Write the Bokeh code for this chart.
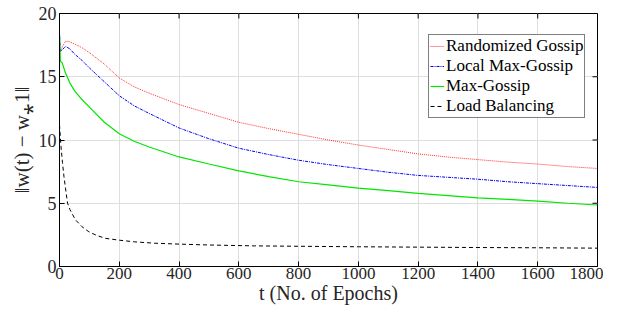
import math
from bokeh.plotting import figure
from bokeh.models import Range1d, Legend, LegendItem, FixedTicker
from bokeh.embed import file_html
from bokeh.resources import INLINE

# ---- data ----
t_rand = [0, 5, 10, 20, 30, 50, 75, 100, 150, 200, 250, 300, 400, 500, 600, 700,
          800, 900, 1000, 1100, 1200, 1300, 1400, 1500, 1600, 1700, 1800]
rand_gossip = [16.8, 17.1, 17.4, 17.8, 17.8, 17.6, 17.3, 16.9, 16.0, 14.9, 14.2, 13.7,
               12.8, 12.1, 11.4, 10.9, 10.45, 10.0, 9.6, 9.25, 8.9, 8.65, 8.45, 8.25,
               8.1, 7.9, 7.75]

t_local = [0, 0, 3, 8, 20, 35, 50, 75, 100, 150, 200, 250, 300, 400, 500, 600, 700,
           800, 900, 1000, 1100, 1200, 1300, 1400, 1500, 1600, 1700, 1800]
local_max_gossip = [15.5, 18.5, 17.0, 17.1, 17.4, 17.2, 16.8, 16.3, 15.7, 14.6, 13.5,
                    12.7, 12.1, 10.95, 10.1, 9.35, 8.85, 8.4, 8.05, 7.75, 7.45, 7.2,
                    7.05, 6.9, 6.7, 6.55, 6.4, 6.25]

t_max = [0, 0, 3, 9, 20, 35, 50, 75, 100, 150, 200, 250, 300, 400, 500, 600, 700,
         800, 900, 1000, 1100, 1200, 1300, 1400, 1500, 1600, 1700, 1800]
max_gossip = [13.7, 18.3, 16.2, 16.1, 15.3, 14.5, 13.9, 13.2, 12.6, 11.4, 10.5, 9.9,
              9.45, 8.66, 8.1, 7.56, 7.1, 6.7, 6.45, 6.2, 6.0, 5.78, 5.6, 5.43, 5.3,
              5.17, 5.0, 4.86]

t_load = [0, 5, 10, 15, 20, 27, 35, 53, 75, 98, 125, 153, 200, 250, 319, 400, 500,
          653, 800, 1000, 1200, 1400, 1600, 1800]
load_balancing = [11.2, 9.5, 8.2, 7.1, 6.2, 5.0, 4.5, 3.7, 3.15, 2.75, 2.45, 2.23,
                  2.08, 1.95, 1.84, 1.77, 1.7, 1.63, 1.6, 1.56, 1.53, 1.5, 1.48, 1.45]

x_ticks = [0, 200, 400, 600, 800, 1000, 1200, 1400, 1600, 1800]
y_ticks = [0, 5, 10, 15, 20]
x_min, x_max = 0, 1800
y_min, y_max = 0, 20

FONT = "Liberation Serif"

p = figure(width=603, height=306, output_backend="svg", toolbar_location=None,
           x_range=Range1d(x_min, x_max), y_range=Range1d(y_min, y_max),
           min_border_left=59, min_border_right=6, min_border_top=13,
           min_border_bottom=39)
p.outline_line_color = "black"
p.outline_line_width = 1

for ax in (p.xaxis[0], p.yaxis[0]):
    ax.major_label_text_font = FONT
    ax.major_label_text_font_size = "18px"
    ax.major_label_text_color = "#262626"
    ax.axis_label_text_font = FONT
    ax.axis_label_text_font_style = "normal"
    ax.axis_label_text_color = "#262626"
    ax.major_tick_in = 5
    ax.major_tick_out = 0
    ax.minor_tick_in = 0
    ax.minor_tick_out = 0
    ax.axis_line_color = "black"
    ax.major_tick_line_color = "black"

p.xaxis[0].ticker = FixedTicker(ticks=x_ticks)
p.yaxis[0].ticker = FixedTicker(ticks=y_ticks)
p.xaxis[0].major_label_text_font_size = "17px"
p.xaxis[0].axis_label = "t (No. of Epochs)"
p.xaxis[0].axis_label_text_font_size = "20px"
p.xaxis[0].axis_label_standoff = 0
p.xaxis[0].major_label_standoff = 1
p.yaxis[0].axis_label = "‖w(t) − w⁎1‖"
p.yaxis[0].axis_label_text_font_size = "21px"
p.yaxis[0].axis_label_standoff = 2
p.yaxis[0].major_label_standoff = 3

# inward ticks on the top and right edges (MATLAB box style)
p.ray(x=x_ticks, y=[y_max] * len(x_ticks), length=5, length_units="screen",
      angle=-math.pi / 2, line_color="black", line_width=1)
p.ray(x=[x_max] * len(y_ticks), y=y_ticks, length=5, length_units="screen",
      angle=math.pi, line_color="black", line_width=1)

p.xgrid.ticker = FixedTicker(ticks=x_ticks)
p.ygrid.ticker = FixedTicker(ticks=y_ticks)
p.xgrid.grid_line_color = "#dedede"
p.ygrid.grid_line_color = "#dedede"
p.xgrid.grid_line_width = 1
p.ygrid.grid_line_width = 1

r1 = p.line(t_rand, rand_gossip, line_color="#ff3030", line_dash="1 1", line_width=1)
r2 = p.line(t_local, local_max_gossip, line_color="#0000ff", line_dash="3 1 1 1", line_width=1)
r3 = p.line(t_max, max_gossip, line_color="#00e600", line_width=1.2)
r4 = p.line(t_load, load_balancing, line_color="black", line_dash="4 3", line_width=1)

legend = Legend(items=[
    LegendItem(label="Randomized Gossip", renderers=[r1]),
    LegendItem(label="Local Max-Gossip", renderers=[r2]),
    LegendItem(label="Max-Gossip", renderers=[r3]),
    LegendItem(label="Load Balancing", renderers=[r4]),
], location=(369, 148))
legend.label_text_font = FONT
legend.label_text_font_size = "17px"
legend.label_text_color = "black"
legend.glyph_width = 14
legend.glyph_height = 16
legend.label_height = 16
legend.label_standoff = 2
legend.spacing = 0
legend.padding = 1
legend.margin = 0
legend.border_line_color = "black"
legend.border_line_width = 1
legend.background_fill_alpha = 1
p.add_layout(legend, "center")

open("out.html", "w").write(file_html(p, INLINE))
